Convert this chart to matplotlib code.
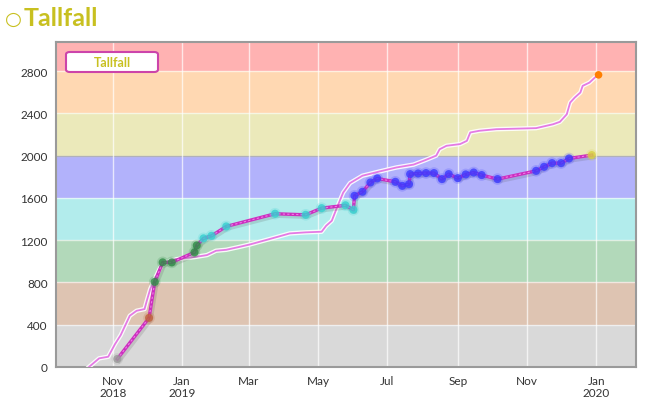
import matplotlib
matplotlib.use("Agg")
import matplotlib.pyplot as plt
import matplotlib.dates as mdates
import matplotlib.patheffects as pe
from matplotlib.patches import FancyBboxPatch
import numpy as np
import pandas as pd

plt.rcParams['font.family'] = ['Lato', 'DejaVu Sans']

# ---- data ----
title_text = "Tallfall"
legend_label = "Tallfall"

points_dates = ["2018-11-05", "2018-12-03", "2018-12-08", "2018-12-15", "2018-12-23",
                "2019-01-12", "2019-01-14", "2019-01-20", "2019-01-27", "2019-02-09",
                "2019-03-24", "2019-04-20", "2019-05-04", "2019-05-25", "2019-06-01",
                "2019-06-02", "2019-06-09", "2019-06-16", "2019-06-22", "2019-07-08",
                "2019-07-14", "2019-07-20", "2019-07-21", "2019-07-28", "2019-08-04",
                "2019-08-11", "2019-08-18", "2019-08-24", "2019-09-01", "2019-09-08",
                "2019-09-15", "2019-09-22", "2019-10-06", "2019-11-09", "2019-11-16",
                "2019-11-23", "2019-12-01", "2019-12-08", "2019-12-28"]
points_values = [76, 465, 805, 990, 990,
                 1085, 1150, 1217, 1241, 1330,
                 1450, 1440, 1503, 1530, 1487,
                 1620, 1658, 1746, 1784, 1752,
                 1714, 1730, 1825, 1831, 1835,
                 1835, 1778, 1825, 1787, 1822,
                 1840, 1816, 1778, 1856, 1894,
                 1929, 1929, 1973, 2005]

cum_dates = ["2018-10-11", "2018-10-20", "2018-10-28", "2018-11-03", "2018-11-08",
             "2018-11-16", "2018-11-22", "2018-11-29", "2018-12-01", "2018-12-04",
             "2018-12-08", "2018-12-13", "2018-12-17", "2018-12-24", "2019-01-02",
             "2019-01-12", "2019-01-23", "2019-01-31", "2019-02-09", "2019-02-20",
             "2019-03-02", "2019-03-19", "2019-04-06", "2019-04-20", "2019-05-04",
             "2019-05-08", "2019-05-13", "2019-05-17", "2019-05-23", "2019-05-29",
             "2019-06-09", "2019-06-24", "2019-07-09", "2019-07-24", "2019-08-04",
             "2019-08-13", "2019-08-16", "2019-08-22", "2019-09-03", "2019-09-09",
             "2019-09-12", "2019-09-20", "2019-10-05", "2019-11-09", "2019-11-24",
             "2019-11-30", "2019-12-06", "2019-12-09", "2019-12-13", "2019-12-18",
             "2019-12-20", "2019-12-26", "2019-12-31", "2020-01-03"]
cum_values = [0, 82, 97, 217, 302,
              485, 532, 548, 627, 737,
              832, 943, 990, 1015, 1028,
              1040, 1059, 1100, 1109, 1135,
              1160, 1210, 1264, 1274, 1280,
              1336, 1384, 1494, 1650, 1740,
              1810, 1850, 1888, 1915, 1960,
              2000, 2060, 2093, 2109, 2140,
              2219, 2235, 2250, 2260, 2297,
              2320, 2391, 2502, 2549, 2597,
              2660, 2691, 2741, 2764]

band_edges = [0, 400, 800, 1200, 1600, 2000, 2400, 2800, 3075]
band_fill = ['#d9d9d9', '#dec4b2', '#b2d9ba', '#b2ecec', '#b2b2fb', '#ebe9ba', '#ffd8b2', '#ffb2b2']
band_marker = ['#9a9a9a', '#c0603a', '#2e8b45', '#35d0d0', '#3a3aff', '#d8d040', '#ff7f00', '#ff3030']

yticks = [0, 400, 800, 1200, 1600, 2000, 2400, 2800]
xtick_dates = ["2018-11-01", "2019-01-01", "2019-03-01", "2019-05-01", "2019-07-01",
               "2019-09-01", "2019-11-01", "2020-01-01"]
xtick_labels = ["Nov\n2018", "Jan\n2019", "Mar", "May", "Jul", "Sep", "Nov", "Jan\n2020"]
x_start, x_end = "2018-09-12", "2020-02-05"

def band_color(v):
    for i in range(len(band_edges) - 1):
        if v < band_edges[i + 1]:
            return band_marker[i]
    return band_marker[-1]

# ---- figure ----
fig = plt.figure(figsize=(6.51, 4.10), dpi=100)
ax = fig.add_axes([56/651, 42/410, 580/651, 325/410])

for i in range(len(band_edges) - 1):
    ax.axhspan(band_edges[i], band_edges[i + 1], color=band_fill[i], lw=0, zorder=0)

pd_pts = pd.to_datetime(points_dates)
pd_cum = pd.to_datetime(cum_dates)
xtd = pd.to_datetime(xtick_dates)

for y in yticks[1:]:
    ax.axhline(y, color='white', lw=1, alpha=0.6, zorder=1)
ax.axhline(2000, color='#909090', lw=1, alpha=0.6, zorder=1)
for d in xtd:
    ax.axvline(d, color='white', lw=1, alpha=0.7, zorder=1)

# cumulative line (pink with white outline)
ax.plot(pd_cum, cum_values, color='#e47ae4', lw=1.3, zorder=3,
        path_effects=[pe.Stroke(linewidth=3.2, foreground='white', alpha=0.9), pe.Normal()])
ax.scatter([pd_cum[-1]], [cum_values[-1]], s=30, color=band_color(cum_values[-1]), zorder=6,
           edgecolors='none')

# points line (magenta with shadow)
ax.plot(pd_pts, points_values, color='#cc2fbf', lw=2.4, zorder=4,
        path_effects=[pe.SimpleLineShadow(offset=(1.2, -1.5), shadow_color='#555555', alpha=0.18, linewidth=3),
                      pe.Normal()])
ax.plot(pd_pts, points_values, color='#f07ae8', lw=0.8, zorder=4.5, dashes=(2, 2))

cols = [band_color(v) for v in points_values]
ax.scatter(pd_pts, points_values, s=70, color=cols, alpha=0.2, edgecolors='none', zorder=5)
ax.scatter(pd_pts, points_values, s=34, color=cols, alpha=0.8, edgecolors='none', zorder=5.5)

ax.set_ylim(0, band_edges[-1])
ax.set_xlim(pd.Timestamp(x_start), pd.Timestamp(x_end))
ax.set_yticks(yticks)
ax.set_yticklabels([str(v) for v in yticks], fontsize=8.5, color='#333333')
ax.set_xticks(xtd)
ax.set_xticklabels(xtick_labels, fontsize=8.5, color='#333333', linespacing=1.1)
ax.tick_params(length=0, pad=6)

for s in ax.spines.values():
    s.set_color('#9a9a9a')
    s.set_linewidth(1.5)

# legend box
leg = FancyBboxPatch((66/651, (410-73)/410), 92/651, 20/410,
                     boxstyle="round,pad=0,rounding_size=0.006",
                     transform=fig.transFigure, facecolor='white', edgecolor='#cc44aa',
                     lw=1.5, zorder=10)
fig.patches.append(leg)
fig.text(112/651, (410-63)/410, legend_label, ha='center', va='center', fontsize=9,
         fontweight='bold', color='#c8c020', zorder=11)

# title
fig.text(5/651, (410-19)/410, "○", ha='left', va='center', fontsize=14,
         color='#c8c020', family=['DejaVu Sans'])
fig.text(24/651, (410-18)/410, title_text, ha='left', va='center', fontsize=18,
         fontweight='bold', color='#c8c020')

fig.savefig("out.png", dpi=100)
